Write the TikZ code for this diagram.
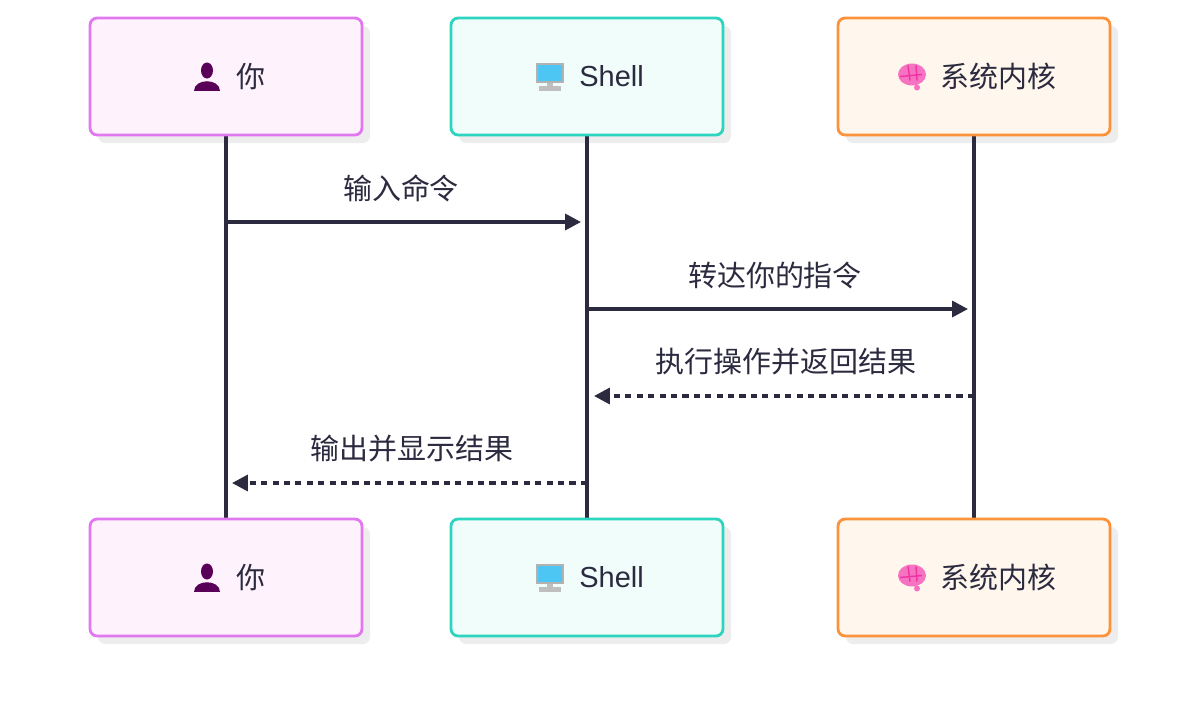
\documentclass[tikz,border=0pt]{standalone}
\usepackage{fontspec}
\setmainfont{Noto Sans CJK SC}
\newfontfamily\latinfont{Liberation Sans}
\usetikzlibrary{positioning,arrows.meta}
\definecolor{inkc}{HTML}{2B2A3F}
\definecolor{youline}{HTML}{E178F0}
\definecolor{youfill}{HTML}{FEF3FD}
\definecolor{shline}{HTML}{2DD4BF}
\definecolor{shfill}{HTML}{F0FDFA}
\definecolor{knline}{HTML}{FB923C}
\definecolor{knfill}{HTML}{FFF7ED}
\tikzset{
	actor/.style={rectangle,draw,line width=1.6pt,rounded corners=4pt,minimum width=5.44cm,minimum height=2.34cm},
	shadowed/.style={fill=black!7,rounded corners=4pt},
	life/.style={inkc,line width=2pt},
	msg/.style={inkc,line width=2pt,-{Triangle[length=9pt,width=9pt]}},
	reply/.style={msg,dash pattern=on 3.5pt off 3pt},
	lbl/.style={font=\fontsize{16.5}{18}\selectfont,text=inkc},
	actorname/.style={lbl,anchor=west,inner sep=0pt},
	you icon/.pic={
		\fill[violet!70!black] (0,-6) ellipse (6 and 8);
		\fill[violet!70!black] (-13,14) .. controls (-13,1) and (13,1) .. (13,14) -- cycle;},
	shell icon/.pic={
		\fill[gray!60] (-14,-14) rectangle (14,6);
		\fill[cyan!70] (-12,-12) rectangle (12,4);
		\fill[gray!50] (-3,6) rectangle (3,9);
		\fill[gray!50] (-11,9) rectangle (11,14);},
	kernel icon/.pic={
		\fill[magenta!55] (0,-2) ellipse (14 and 11);
		\draw[magenta!80,thick] (-4,-11) -- (-2,4) (4,-11) -- (5,4) (-12,0) -- (10,-2);
		\fill[magenta!55] (5,11) circle (3);}
}
\begin{document}
\begin{tikzpicture}[x=0.02cm,y=-0.02cm]
	\useasboundingbox (0,0) rectangle (1200,711);

	% shadows
	\foreach \cx in {226,587,974}{
		\fill[shadowed] (\cx-128,26) rectangle +(272,117);
		\fill[shadowed] (\cx-128,527) rectangle +(272,117);
	}

	% lifelines under the boxes
	\coordinate (you top) at (226,135);
	\coordinate (you bot) at (226,519);
	\coordinate (sh top) at (587,135);
	\coordinate (sh bot) at (587,519);
	\coordinate (kn top) at (974,135);
	\coordinate (kn bot) at (974,519);
	\draw[life] (you top) -- (you bot);
	\draw[life] (sh top) -- (sh bot);
	\draw[life] (kn top) -- (kn bot);

	\foreach \pos/\cy in {head/76.5,foot/577.5}{
		\node[actor,draw=youline,fill=youfill] (you \pos) at (226,\cy) {};
		\node[actor,draw=shline,fill=shfill] (shell \pos) at (587,\cy) {};
		\node[actor,draw=knline,fill=knfill] (kernel \pos) at (974,\cy) {};
		\pic at (207,\cy) {you icon};
		\pic at (550,\cy) {shell icon};
		\pic at (912,\cy) {kernel icon};
		\node[actorname] (you \pos\space text) at (236,\cy) {你};
		\node[actorname,font=\fontsize{16.5}{18}\latinfont] (shell \pos\space text) at (579,\cy) {Shell};
		\node[actorname] (kernel \pos\space text) at (940,\cy) {系统内核};
	}

	% messages
	\coordinate (m1 a) at (226,222);
	\coordinate (m1 b) at (581,222);
	\coordinate (m2 a) at (587,309);
	\coordinate (m2 b) at (968,309);
	\coordinate (m3 a) at (974,396);
	\coordinate (m3 b) at (594,396);
	\coordinate (m4 a) at (587,483);
	\coordinate (m4 b) at (232,483);
	\draw[msg] (m1 a) -- (m1 b);
	\draw[msg] (m2 a) -- (m2 b);
	\draw[reply] (m3 a) -- (m3 b);
	\draw[reply] (m4 a) -- (m4 b);

	\node[lbl] (l1) at (401,188) {输入命令};
	\node[lbl] (l2) at (775,275) {转达你的指令};
	\node[lbl] (l3) at (786,362) {执行操作并返回结果};
	\node[lbl] (l4) at (412,449) {输出并显示结果};
\end{tikzpicture}
\end{document}
